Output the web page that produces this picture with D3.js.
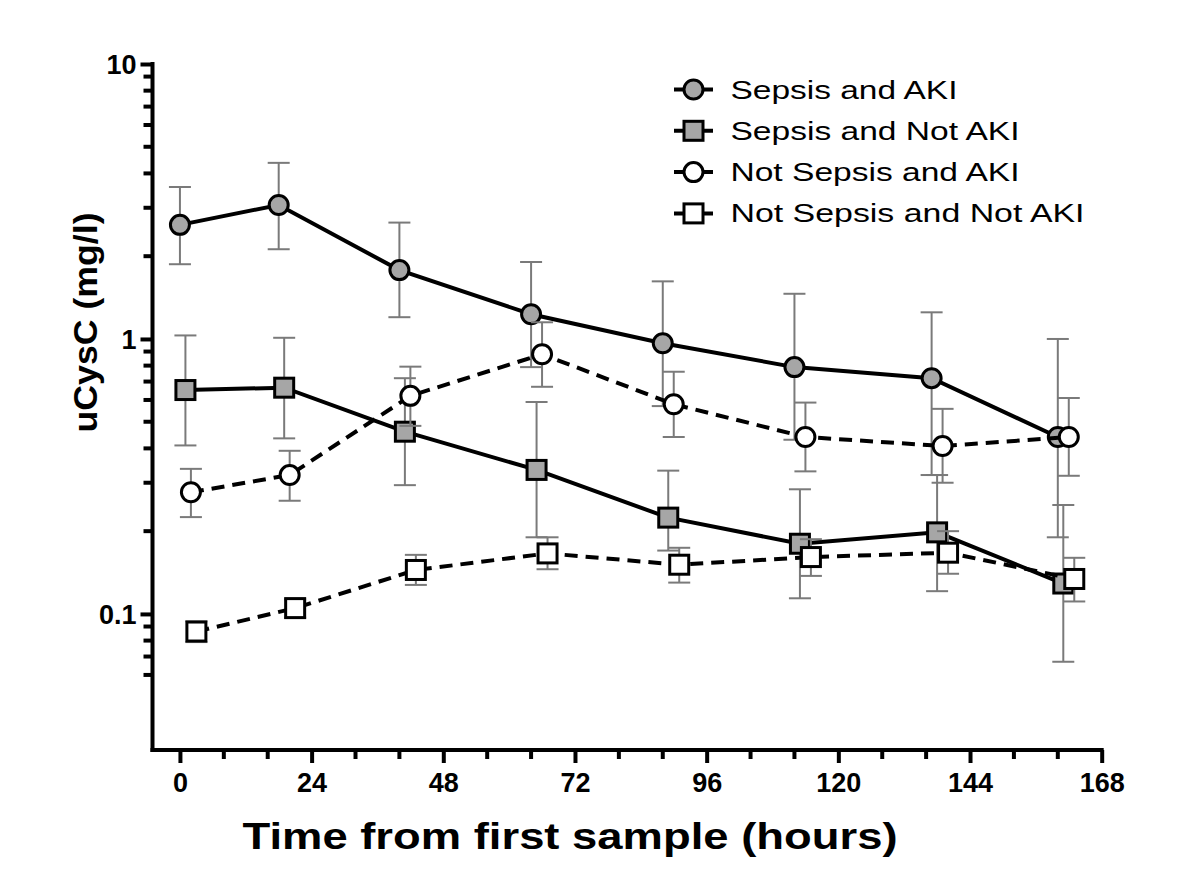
<!DOCTYPE html>
<html><head><meta charset="utf-8">
<script src="https://cdn.jsdelivr.net/npm/d3@7"></script>
<style>html,body{margin:0;padding:0;background:#fff;}</style>
</head><body>
<svg id="chart" width="1200" height="887"></svg>
<script>
// ---- data ----
const seriesNames = ["Sepsis and AKI", "Sepsis and Not AKI", "Not Sepsis and AKI", "Not Sepsis and Not AKI"];

const sepsisAKI_t    = [0, 18, 40, 64, 88, 112, 137, 160];
const sepsisAKI_mean = [2.60, 3.07, 1.78, 1.23, 0.965, 0.79, 0.72, 0.44];
const sepsisAKI_lo   = [1.87, 2.12, 1.20, 0.79, 0.57, 0.43, 0.32, 0.19];
const sepsisAKI_hi   = [3.57, 4.37, 2.65, 1.905, 1.62, 1.46, 1.25, 1.0];

const sepsisNoAKI_t    = [1, 19, 41, 65, 89, 113, 138, 161];
const sepsisNoAKI_mean = [0.652, 0.665, 0.46, 0.334, 0.224, 0.18, 0.198, 0.129];
const sepsisNoAKI_lo   = [0.41, 0.435, 0.294, 0.19, 0.17, 0.114, 0.121, 0.067];
const sepsisNoAKI_hi   = [1.03, 1.01, 0.72, 0.59, 0.332, 0.284, 0.32, 0.249];

const noSepsisAKI_t    = [2, 20, 42, 66, 90, 114, 139, 162];
const noSepsisAKI_mean = [0.277, 0.32, 0.621, 0.88, 0.579, 0.44, 0.408, 0.44];
const noSepsisAKI_lo   = [0.225, 0.258, 0.483, 0.67, 0.44, 0.33, 0.30, 0.318];
const noSepsisAKI_hi   = [0.337, 0.392, 0.793, 1.15, 0.76, 0.587, 0.557, 0.61];

const noSepsisNoAKI_t    = [3, 21, 43, 67, 91, 115, 140, 163];
const noSepsisNoAKI_mean = [0.0863, 0.105, 0.1445, 0.166, 0.151, 0.161, 0.167, 0.134];
const noSepsisNoAKI_lo   = [0.079, 0.097, 0.1275, 0.1454, 0.13, 0.1375, 0.14, 0.111];
const noSepsisNoAKI_hi   = [0.094, 0.113, 0.164, 0.19, 0.174, 0.187, 0.2, 0.16];

const xTickValues = [0, 24, 48, 72, 96, 120, 144, 168];
const xMinorTicks = d3.range(0, 169, 8);
const yTickValues = [0.1, 1, 10];
const yTickLabels = ["0.1", "1", "10"];
const yMinorTicks = [0.06, 0.07, 0.08, 0.09, 0.2, 0.3, 0.4, 0.5, 0.6, 0.7, 0.8, 0.9, 2, 3, 4, 5, 6, 7, 8, 9];

const xTitle = "Time from first sample (hours)";
const yTitle = "uCysC (mg/l)";

// ---- build ----
const series = [
  {name: seriesNames[0], t: sepsisAKI_t, m: sepsisAKI_mean, lo: sepsisAKI_lo, hi: sepsisAKI_hi, shape: "circle", fill: "#a6a6a6", dash: null, legW: 227},
  {name: seriesNames[1], t: sepsisNoAKI_t, m: sepsisNoAKI_mean, lo: sepsisNoAKI_lo, hi: sepsisNoAKI_hi, shape: "square", fill: "#a6a6a6", dash: null, legW: 289},
  {name: seriesNames[2], t: noSepsisAKI_t, m: noSepsisAKI_mean, lo: noSepsisAKI_lo, hi: noSepsisAKI_hi, shape: "circle", fill: "#ffffff", dash: "13,8", legW: 289},
  {name: seriesNames[3], t: noSepsisNoAKI_t, m: noSepsisNoAKI_mean, lo: noSepsisNoAKI_lo, hi: noSepsisNoAKI_hi, shape: "square", fill: "#ffffff", dash: "13,8", legW: 354}
];

const svg = d3.select("#chart");
const FONT = "Arial, 'Liberation Sans', sans-serif";

const x = d3.scaleLinear().domain([-5, 168]).range([152.5, 1101.7]);
const y = d3.scaleLog().domain([0.032, 10]).range([750, 64]);

// axes
const axisG = svg.append("g");
const yAxis = axisG.append("g").attr("transform", `translate(${x(-5)},0)`)
  .call(d3.axisLeft(y).tickValues(yTickValues).tickFormat((d, i) => yTickLabels[i]).tickSize(12).tickSizeOuter(0).tickPadding(4));
yAxis.selectAll(".tick line").attr("stroke-width", 4);
yAxis.append("g").selectAll("line").data(yMinorTicks).join("line")
  .attr("x1", -9).attr("x2", 0).attr("y1", d => y(d)).attr("y2", d => y(d))
  .attr("stroke", "#000").attr("stroke-width", 4);

const xAxis = axisG.append("g").attr("transform", `translate(0,${y(0.032)})`)
  .call(d3.axisBottom(x).tickValues(xTickValues).tickSize(13).tickSizeOuter(0).tickPadding(10));
xAxis.selectAll(".tick line").attr("stroke-width", 4);
xAxis.append("g").selectAll("line").data(xMinorTicks.filter(d => !xTickValues.includes(d))).join("line")
  .attr("x1", d => x(d)).attr("x2", d => x(d)).attr("y1", 0).attr("y2", 9)
  .attr("stroke", "#000").attr("stroke-width", 4);

axisG.selectAll(".domain").remove();
axisG.append("line").attr("x1", x(-5)).attr("x2", x(-5)).attr("y1", y(10) - 2).attr("y2", y(0.032) + 2)
  .attr("stroke", "#000").attr("stroke-width", 4);
axisG.append("line").attr("x1", x(-5) - 2).attr("x2", x(168) + 2).attr("y1", y(0.032)).attr("y2", y(0.032))
  .attr("stroke", "#000").attr("stroke-width", 4);

axisG.selectAll(".tick text").attr("font-family", FONT).attr("font-weight", "bold").attr("font-size", 27).attr("fill", "#000");
yAxis.selectAll(".tick text").attr("dy", "0.36em");

// titles
svg.append("text").attr("x", 570).attr("y", 849).attr("text-anchor", "middle")
  .attr("font-family", FONT).attr("font-weight", "bold").attr("font-size", 36)
  .attr("textLength", 655).attr("lengthAdjust", "spacingAndGlyphs").text(xTitle);
svg.append("text").attr("transform", "translate(97,322.5) rotate(-90)").attr("text-anchor", "middle")
  .attr("font-family", FONT).attr("font-weight", "bold").attr("font-size", 34)
  .attr("textLength", 220).attr("lengthAdjust", "spacingAndGlyphs").text(yTitle);

// marks
function drawMarker(g, shape, fill, cx, cy) {
  if (shape === "circle") {
    g.append("circle").attr("cx", cx).attr("cy", cy).attr("r", 9.5)
      .attr("fill", fill).attr("stroke", "#000").attr("stroke-width", 3);
  } else {
    g.append("rect").attr("x", cx - 9.5).attr("y", cy - 9.5).attr("width", 19).attr("height", 19)
      .attr("fill", fill).attr("stroke", "#000").attr("stroke-width", 3);
  }
}

const line = d3.line().x(d => x(d.t)).y(d => y(d.m));
series.forEach(s => {
  const pts = s.t.map((t, i) => ({t, m: s.m[i], lo: s.lo[i], hi: s.hi[i]}));
  const g = svg.append("g");
  const eb = g.append("g").attr("stroke", "#7a7a7a").attr("stroke-width", 2);
  pts.forEach(p => {
    eb.append("line").attr("x1", x(p.t)).attr("x2", x(p.t)).attr("y1", y(p.lo)).attr("y2", y(p.hi));
    eb.append("line").attr("x1", x(p.t) - 11).attr("x2", x(p.t) + 11).attr("y1", y(p.lo)).attr("y2", y(p.lo));
    eb.append("line").attr("x1", x(p.t) - 11).attr("x2", x(p.t) + 11).attr("y1", y(p.hi)).attr("y2", y(p.hi));
  });
  g.append("path").datum(pts).attr("d", line).attr("fill", "none").attr("stroke", "#000")
    .attr("stroke-width", 4).attr("stroke-dasharray", s.dash);
  pts.forEach(p => drawMarker(g, s.shape, s.fill, x(p.t), y(p.m)));
});

// legend
const leg = svg.append("g");
series.forEach((s, i) => {
  const ly = 89.5 + i * 41.3;
  leg.append("line").attr("x1", 674).attr("x2", 713).attr("y1", ly).attr("y2", ly)
    .attr("stroke", "#000").attr("stroke-width", 4);
  drawMarker(leg, s.shape, s.fill, 693.5, ly);
  leg.append("text").attr("x", 730.5).attr("y", ly + 9).attr("font-family", FONT)
    .attr("font-size", 26).attr("fill", "#000")
    .attr("textLength", s.legW).attr("lengthAdjust", "spacingAndGlyphs").text(s.name);
});
</script>
</body></html>
